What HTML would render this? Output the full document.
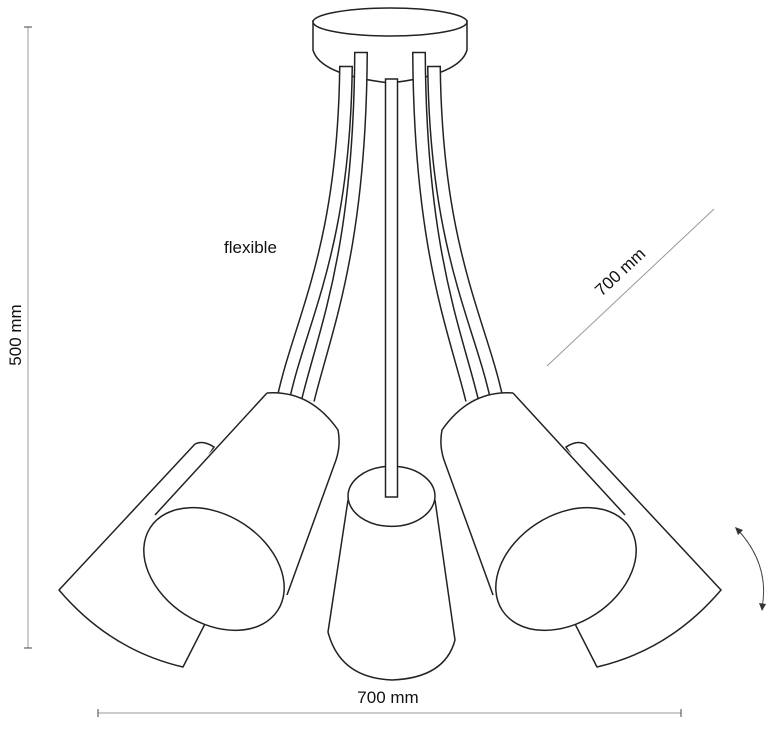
<!DOCTYPE html>
<html><head><style>
html,body{margin:0;padding:0;background:#fff;}
svg{display:block;}
text{font-family:"Liberation Sans",sans-serif;fill:#111;}
</style></head><body>
<svg width="778" height="753" viewBox="0 0 778 753" xmlns="http://www.w3.org/2000/svg">
<defs>
<g id="side">
  <!-- back shade -->
  <path d="M195,444 Q203,440 214,447 L207,458" fill="#fff" stroke="#222" stroke-width="1.5"/>
  <path d="M195,444 L59,590 Q110,650 183,667 L208,618" fill="#fff" stroke="#222" stroke-width="1.5" stroke-linejoin="round"/>
  <!-- rods -->
  <path d="M346,66 C344,250 300,320 283,400" fill="none" stroke="#222" stroke-width="14"/>
  <path d="M346,66 C344,250 300,320 283,400" fill="none" stroke="#fff" stroke-width="11"/>
  <line x1="339" y1="66.5" x2="353" y2="66.5" stroke="#222" stroke-width="1.5"/>
  <path d="M361,52 C360,250 325,330 308,400" fill="none" stroke="#222" stroke-width="14"/>
  <path d="M361,52 C360,250 325,330 308,400" fill="none" stroke="#fff" stroke-width="11"/>
  <line x1="354" y1="52.5" x2="368" y2="52.5" stroke="#222" stroke-width="1.5"/>
  <!-- front shade -->
  <path d="M267,393 Q310,390 338,430 Q341,445 336,460 L287,595 L165,500 Z" fill="#fff" stroke="none"/>
  <path d="M267,393 Q310,390 338,430 Q341,445 336,460 L287,595 M267,393 L155,515" fill="none" stroke="#222" stroke-width="1.5" stroke-linejoin="round"/>
  <ellipse cx="214" cy="569" rx="76" ry="54" transform="rotate(33 214 569)" fill="#fff" stroke="#222" stroke-width="1.5"/>
</g>
</defs>
<!-- canopy -->
<path d="M313,20 L313,50 Q320,75 390,83 Q460,75 467,50 L467,20" fill="#fff" stroke="#222" stroke-width="1.5"/>
<ellipse cx="390" cy="22" rx="77" ry="14" fill="#fff" stroke="#222" stroke-width="1.5"/>
<use href="#side"/>
<use href="#side" transform="translate(780,0) scale(-1,1)"/>
<!-- center rod -->
<rect x="385.5" y="79" width="12" height="418" fill="#fff" stroke="#222" stroke-width="1.5"/>
<!-- center shade -->
<path d="M348,500 L328,632 Q340,678 392,680 Q445,678 455,640 L435,500" fill="#fff" stroke="#222" stroke-width="1.5"/>
<path d="M348,496 A43,30 0 0 0 435,496" fill="none" stroke="#222" stroke-width="1.5"/>
<path d="M348,496 A43,30 0 0 1 385.5,466.5 M397.5,466.5 A43,30 0 0 1 435,496" fill="none" stroke="#222" stroke-width="1.5"/>
<!-- dims -->
<g stroke="#999" stroke-width="1">
  <line x1="28" y1="27" x2="28" y2="648"/>
  <line x1="24" y1="27" x2="32" y2="27" stroke="#444"/>
  <line x1="24" y1="648" x2="32" y2="648" stroke="#444"/>
  <line x1="98" y1="713" x2="681" y2="713"/>
  <line x1="98" y1="709" x2="98" y2="717" stroke="#444"/>
  <line x1="681" y1="709" x2="681" y2="717" stroke="#444"/>
  <line x1="547" y1="366" x2="714" y2="209"/>
</g>
<text x="388" y="703" font-size="17" text-anchor="middle">700 mm</text>
<text transform="translate(21,335) rotate(-90)" font-size="17" text-anchor="middle">500 mm</text>
<text transform="translate(624,276) rotate(-43)" font-size="17" text-anchor="middle">700 mm</text>
<text x="224" y="253" font-size="17">flexible</text>
<!-- rotation arrow -->
<path d="M738,530 Q770,565 762,608" fill="none" stroke="#444" stroke-width="1"/>
<path d="M735,527 L743,530 L738,535 Z M762,611 L759,603 L766,604 Z" fill="#333"/>
</svg>
</body></html>
